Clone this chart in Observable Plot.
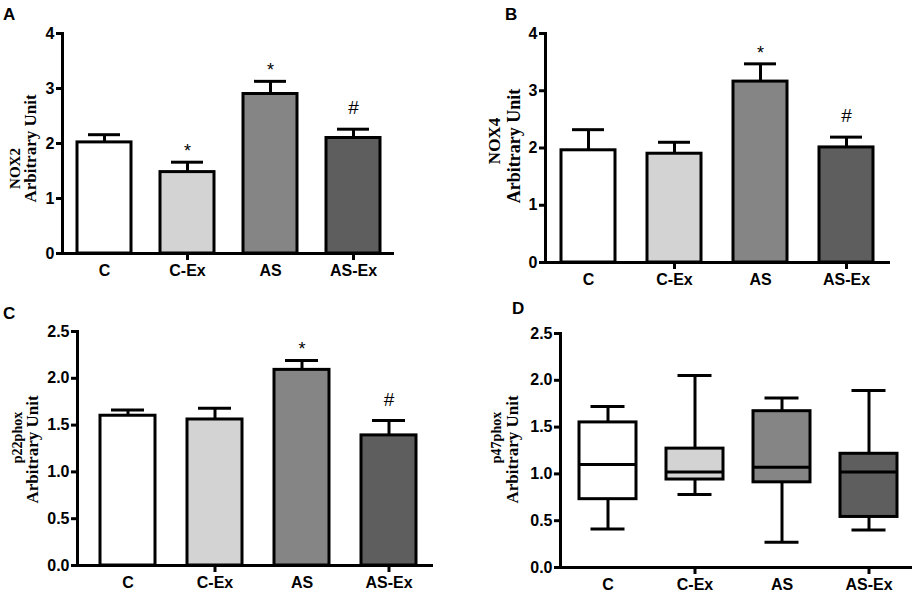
<!DOCTYPE html>
<html><head><meta charset="utf-8">
<script src="https://cdn.jsdelivr.net/npm/d3@7"></script>
<script src="https://cdn.jsdelivr.net/npm/@observablehq/plot@0.6"></script>
<style>
body{margin:0;background:#fff;}
#wrap{position:relative;width:920px;height:597px;overflow:hidden;background:#fff;}
.panel{position:absolute;}
.letter{position:absolute;font:bold 17px "Liberation Sans",Arial,sans-serif;line-height:1;color:#000;}
</style></head><body><div id="wrap"></div>
<script>
// ---- data ----
const groups = ["C", "C-Ex", "AS", "AS-Ex"];
const tickedGroups = ["C-Ex", "AS-Ex"];
const fills = ["#ffffff", "#d3d3d3", "#858585", "#5e5e5e"];

const nox2Mean = [2.02, 1.48, 2.90, 2.10];
const nox2Err  = [2.16, 1.66, 3.13, 2.26];
const nox2Sig  = ["", "*", "*", "#"];

const nox4Mean = [1.96, 1.90, 3.16, 2.01];
const nox4Err  = [2.32, 2.10, 3.47, 2.19];
const nox4Sig  = ["", "", "*", "#"];

const p22Mean = [1.60, 1.56, 2.09, 1.39];
const p22Err  = [1.66, 1.68, 2.19, 1.55];
const p22Sig  = ["", "", "*", "#"];

const p47Min    = [0.41, 0.78, 0.27, 0.40];
const p47Q1     = [0.73, 0.94, 0.91, 0.54];
const p47Median = [1.10, 1.02, 1.07, 1.02];
const p47Q3     = [1.55, 1.27, 1.67, 1.215];
const p47Max    = [1.72, 2.05, 1.81, 1.89];

const ticksNox = [0, 1, 2, 3, 4];
const ticksPhox = [0, 0.5, 1.0, 1.5, 2.0, 2.5];

// ---- helpers ----
const baseStyle = {fontFamily: "'Liberation Sans', Arial, sans-serif", fontSize: "16px", fontWeight: "bold", color: "#000", background: "transparent", overflow: "visible"};
const serif = "'Liberation Serif', 'Times New Roman', serif";

function commonMarks(c) {
  return [
    Plot.ruleY([0], {stroke: "#000", strokeWidth: 3}),
    Plot.frame({anchor: "left", stroke: "#000", strokeWidth: 3}),
    Plot.axisY({ticks: c.yTicks, tickFormat: c.fmt, tickSize: 6, tickPadding: 2, strokeWidth: 3, label: null, fontSize: 16}),
    Plot.axisX({tickSize: 0, tickPadding: 11, label: null, fontSize: 16}),
    Plot.axisX({ticks: tickedGroups, tickSize: 7, strokeWidth: 3, tickFormat: () => "", label: null}),
    Plot.text([c.label1], {text: d => d, frameAnchor: "left", textAnchor: "middle", rotate: -90, dx: c.l1dx, dy: c.l1dy, fontFamily: serif, fontSize: c.l1fs, fontWeight: "bold"}),
    Plot.text([c.label2], {text: d => d, frameAnchor: "left", textAnchor: "middle", rotate: -90, dx: c.l2dx, dy: c.l2dy, fontFamily: serif, fontSize: c.l2fs, fontWeight: "bold"})
  ];
}

function barChart(c) {
  const rows = groups.map((g, i) => ({group: g, shade: fills[i], mean: c.mean[i], err: c.err[i], sig: c.sig[i]}));
  const capInset = c.capInset;
  return Plot.plot({
    width: c.w, height: c.h,
    marginTop: c.mt, marginBottom: c.mb, marginLeft: c.ml, marginRight: c.mr,
    style: baseStyle,
    x: {domain: groups, paddingInner: c.pad, paddingOuter: c.pad / 2, insetLeft: c.insetL || 0, label: null},
    y: {domain: c.yDomain, label: null},
    color: {type: "identity"},
    marks: [
      Plot.barY(rows, {x: "group", y: "mean", fill: "shade", stroke: "#000", strokeWidth: 3}),
      Plot.ruleX(rows, {x: "group", y1: "mean", y2: "err", stroke: "#000", strokeWidth: 3}),
      Plot.tickY(rows, {x: "group", y: "err", stroke: "#000", strokeWidth: 3, insetLeft: capInset, insetRight: capInset}),
      Plot.text(rows.filter(d => d.sig === "*"), {x: "group", y: "err", text: "sig", dy: -11, fontSize: 18, fontWeight: "normal"}),
      Plot.text(rows.filter(d => d.sig === "#"), {x: "group", y: "err", text: "sig", dy: -21, fontSize: 19, fontWeight: "normal"}),
      ...commonMarks(c)
    ]
  });
}

function boxChart(c) {
  const rows = groups.map((g, i) => ({group: g, shade: fills[i], min: p47Min[i], q1: p47Q1[i], med: p47Median[i], q3: p47Q3[i], max: p47Max[i]}));
  const capInset = c.capInset;
  return Plot.plot({
    width: c.w, height: c.h,
    marginTop: c.mt, marginBottom: c.mb, marginLeft: c.ml, marginRight: c.mr,
    style: baseStyle,
    x: {domain: groups, paddingInner: c.pad, paddingOuter: c.pad / 2, insetLeft: c.insetL || 0, label: null},
    y: {domain: c.yDomain, label: null},
    color: {type: "identity"},
    marks: [
      Plot.ruleX(rows, {x: "group", y1: "min", y2: "q1", stroke: "#000", strokeWidth: 3}),
      Plot.ruleX(rows, {x: "group", y1: "q3", y2: "max", stroke: "#000", strokeWidth: 3}),
      Plot.tickY(rows, {x: "group", y: "min", stroke: "#000", strokeWidth: 3, insetLeft: capInset, insetRight: capInset}),
      Plot.tickY(rows, {x: "group", y: "max", stroke: "#000", strokeWidth: 3, insetLeft: capInset, insetRight: capInset}),
      Plot.barY(rows, {x: "group", y1: "q1", y2: "q3", fill: "shade", stroke: "#000", strokeWidth: 3}),
      Plot.tickY(rows, {x: "group", y: "med", stroke: "#000", strokeWidth: 3}),
      ...commonMarks(c)
    ]
  });
}

const wrap = document.getElementById("wrap");
function place(node, left, top) {
  const d = document.createElement("div");
  d.className = "panel";
  d.style.left = left + "px";
  d.style.top = top + "px";
  d.appendChild(node);
  wrap.appendChild(d);
}
function letter(t, left, top) {
  const d = document.createElement("div");
  d.className = "letter";
  d.textContent = t;
  d.style.left = left + "px";
  d.style.top = top + "px";
  wrap.appendChild(d);
}

// Panel A
place(barChart({
  w: 460, h: 300, mt: 33, mb: 47, ml: 62, mr: 66, pad: 0.35, capInset: 11,
  yDomain: [0, 4], yTicks: ticksNox, fmt: d3.format("d"),
  mean: nox2Mean, err: nox2Err, sig: nox2Sig,
  label1: "NOX2", l1dx: -47, l1dy: 25, l1fs: 15,
  label2: "Arbitrary Unit", l2dx: -32, l2dy: 5, l2fs: 17
}), 0, 0);

// Panel B
place(barChart({
  w: 460, h: 300, mt: 33, mb: 38, ml: 85, mr: 30, pad: 0.37, capInset: 11,
  yDomain: [0, 4], yTicks: ticksNox, fmt: d3.format("d"),
  mean: nox4Mean, err: nox4Err, sig: nox4Sig,
  label1: "NOX4", l1dx: -51, l1dy: -7, l1fs: 17,
  label2: "Arbitrary Unit", l2dx: -31, l2dy: -2, l2fs: 18
}), 460, 0);

// Panel C
place(barChart({
  w: 460, h: 297, mt: 31, mb: 32, ml: 77, mr: 27, pad: 0.37, insetL: 5, capInset: 11,
  yDomain: [0, 2.5], yTicks: ticksPhox, fmt: d3.format(".1f"),
  mean: p22Mean, err: p22Err, sig: p22Sig,
  label1: "p22phox", l1dx: -60, l1dy: -11, l1fs: 14,
  label2: "Arbitrary Unit", l2dx: -45, l2dy: 1, l2fs: 17
}), 0, 300);

// Panel D
place(boxChart({
  w: 460, h: 297, mt: 33, mb: 30, ml: 100, mr: 8, pad: 0.35, insetL: 3, capInset: 11.5,
  yDomain: [0, 2.5], yTicks: ticksPhox, fmt: d3.format(".1f"),
  label1: "p47phox", l1dx: -64, l1dy: -13, l1fs: 14,
  label2: "Arbitrary Unit", l2dx: -48, l2dy: -1, l2fs: 17
}), 460, 300);

letter("A", 3, 6);
letter("B", 505, 6);
letter("C", 3, 305);
letter("D", 512, 300);
</script>
</body></html>
